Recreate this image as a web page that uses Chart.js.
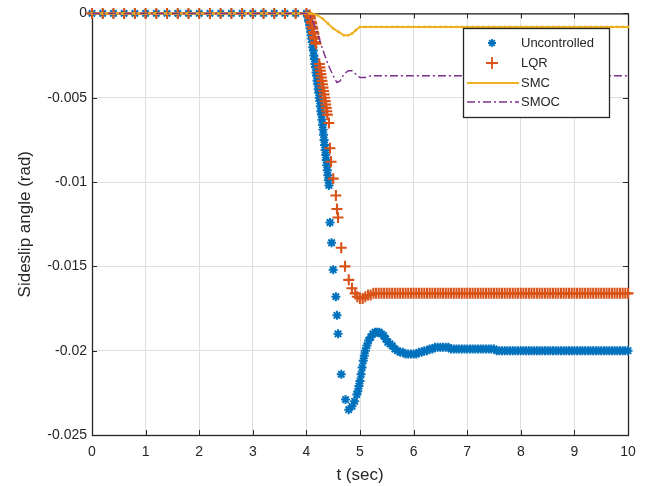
<!DOCTYPE html>
<html>
<head>
<meta charset="utf-8">
<script src="https://cdn.jsdelivr.net/npm/chart.js@4.4.0/dist/chart.umd.min.js"></script>
<style>
    html, body { margin: 0; padding: 0; background: #fff; }
    canvas { display: block; }
</style>
</head>
<body>
<canvas id="sideslip" width="654" height="486"></canvas>
<script>
    // Donnees
    const seriesNames = ['Uncontrolled', 'LQR', 'SMC', 'SMOC'];
    const xTicks = [0, 1, 2, 3, 4, 5, 6, 7, 8, 9, 10];
    const xTickLabels = ['0', '1', '2', '3', '4', '5', '6', '7', '8', '9', '10'];
    const yTicks = [-0.025, -0.02, -0.015, -0.01, -0.005, 0];
    const yTickLabels = ['-0.025', '-0.02', '-0.015', '-0.01', '-0.005', '0'];

    // avant la perturbation (commun aux 4 courbes)
    const tHead = [0, 0.2, 0.4, 0.6, 0.8, 1, 1.2, 1.4, 1.6, 1.8, 2, 2.2, 2.4, 2.6, 2.8, 3, 3.2, 3.4, 3.6, 3.8, 4];
    const yHead = [0, 0, 0, 0, 0, 0, 0, 0, 0, 0, 0, 0, 0, 0, 0, 0, 0, 0, 0, 0, 0];

    // regime etabli, pas fin (marqueurs) et pas large (lignes)
    const tTailDense = [6.05, 6.1, 6.15, 6.2, 6.25, 6.3, 6.35, 6.4, 6.45, 6.5,
                        6.55, 6.6, 6.65, 6.7, 6.75, 6.8, 6.85, 6.9, 6.95, 7,
                        7.05, 7.1, 7.15, 7.2, 7.25, 7.3, 7.35, 7.4, 7.45, 7.5,
                        7.55, 7.6, 7.65, 7.7, 7.75, 7.8, 7.85, 7.9, 7.95, 8,
                        8.05, 8.1, 8.15, 8.2, 8.25, 8.3, 8.35, 8.4, 8.45, 8.5,
                        8.55, 8.6, 8.65, 8.7, 8.75, 8.8, 8.85, 8.9, 8.95, 9,
                        9.05, 9.1, 9.15, 9.2, 9.25, 9.3, 9.35, 9.4, 9.45, 9.5,
                        9.55, 9.6, 9.65, 9.7, 9.75, 9.8, 9.85, 9.9, 9.95, 10];
    const tTailLine = [6.1, 6.2, 6.3, 6.4, 6.5, 6.6, 6.7, 6.8, 6.9, 7,
                       7.1, 7.2, 7.3, 7.4, 7.5, 7.6, 7.7, 7.8, 7.9, 8,
                       8.1, 8.2, 8.3, 8.4, 8.5, 8.6, 8.7, 8.8, 8.9, 9,
                       9.1, 9.2, 9.3, 9.4, 9.5, 9.6, 9.7, 9.8, 9.9, 10];

    // Uncontrolled
    const tUnc = [4.02, 4.03, 4.04, 4.05, 4.06, 4.07, 4.08, 4.09, 4.10, 4.11,
                  4.12, 4.13, 4.14, 4.15, 4.16, 4.17, 4.18, 4.19, 4.20, 4.21,
                  4.22, 4.23, 4.24, 4.25, 4.26, 4.27, 4.28, 4.29, 4.30, 4.31,
                  4.32, 4.33, 4.34, 4.35, 4.36, 4.37, 4.38, 4.39, 4.40, 4.41, 4.42,
                  4.44, 4.47, 4.50, 4.55, 4.57, 4.59, 4.65, 4.73, 4.79, 4.85, 4.90, 4.94,
                  4.96, 4.98, 5.00, 5.02, 5.04, 5.06, 5.08, 5.10, 5.13, 5.16,
                  5.20, 5.24, 5.28, 5.32, 5.36, 5.40, 5.44, 5.48, 5.52, 5.56,
                  5.60, 5.65, 5.70, 5.75, 5.80, 5.85, 5.90, 5.95, 6.00];
    const yUnc = [-0.0001, -0.0002, -0.0004, -0.0005, -0.0007, -0.0009, -0.0011, -0.0013, -0.0015, -0.0017,
                  -0.0020, -0.0022, -0.0025, -0.0027, -0.0030, -0.0032, -0.0035, -0.0037, -0.0040, -0.0042,
                  -0.0045, -0.0047, -0.0050, -0.0052, -0.0055, -0.0058, -0.0060, -0.0063, -0.0066, -0.0069,
                  -0.0072, -0.0075, -0.0078, -0.0081, -0.0084, -0.0087, -0.0090, -0.0093, -0.0096, -0.0099, -0.0102,
                  -0.0124, -0.0136, -0.0152, -0.0168, -0.0179, -0.0190, -0.0214, -0.0229, -0.0235, -0.0233, -0.0230, -0.0226,
                  -0.0224, -0.0221, -0.0218, -0.0214, -0.0210, -0.0206, -0.0203, -0.0200, -0.0197, -0.0194,
                  -0.0192, -0.0190, -0.0189, -0.0189, -0.0189, -0.0190, -0.0191, -0.0193, -0.0195, -0.0196,
                  -0.0197, -0.0199, -0.0200, -0.0201, -0.0201, -0.0202, -0.0202, -0.0202, -0.0202];
    const yUncTail = [-0.0202, -0.0201, -0.0201, -0.0200, -0.0200, -0.0199, -0.0199, -0.0198, -0.0198, -0.0198,
                      -0.0198, -0.0198, -0.0198, -0.0199, -0.0199, -0.0199, -0.0199, -0.0199, -0.0199, -0.0199,
                      -0.0199, -0.0199, -0.0199, -0.0199, -0.0199, -0.0199, -0.0199, -0.0199, -0.0199, -0.0199,
                      -0.0200, -0.0200, -0.0200, -0.0200, -0.0200, -0.0200, -0.0200, -0.0200, -0.0200, -0.0200,
                      -0.0200, -0.0200, -0.0200, -0.0200, -0.0200, -0.0200, -0.0200, -0.0200, -0.0200, -0.0200,
                      -0.0200, -0.0200, -0.0200, -0.0200, -0.0200, -0.0200, -0.0200, -0.0200, -0.0200, -0.0200,
                      -0.0200, -0.0200, -0.0200, -0.0200, -0.0200, -0.0200, -0.0200, -0.0200, -0.0200, -0.0200,
                      -0.0200, -0.0200, -0.0200, -0.0200, -0.0200, -0.0200, -0.0200, -0.0200, -0.0200, -0.0200];

    // LQR
    const tLqr = [4.06, 4.07, 4.08, 4.09, 4.10, 4.11, 4.12, 4.13, 4.14, 4.15, 4.16, 4.17, 4.18,
                  4.24, 4.25, 4.26, 4.27, 4.28, 4.29, 4.30, 4.31, 4.32, 4.33, 4.34, 4.35, 4.36, 4.37, 4.38, 4.39,
                  4.42, 4.44, 4.46, 4.50, 4.55, 4.57, 4.59, 4.65, 4.72, 4.79, 4.85, 4.91,
                  4.95, 5.00, 5.05, 5.10, 5.15, 5.20, 5.25, 5.30, 5.35, 5.40, 5.45, 5.50,
                  5.55, 5.60, 5.65, 5.70, 5.75, 5.80, 5.85, 5.90, 5.95, 6.00];
    const yLqr = [-0.0001, -0.0002, -0.0003, -0.0005, -0.0006, -0.0008, -0.0009, -0.0011, -0.0012, -0.0014, -0.0015, -0.0017, -0.0018,
                  -0.0030, -0.0032, -0.0034, -0.0036, -0.0038, -0.0040, -0.0042, -0.0044, -0.0046, -0.0048, -0.0050, -0.0052, -0.0054, -0.0056, -0.0058, -0.0060,
                  -0.0065, -0.0080, -0.0088, -0.0098, -0.0108, -0.0116, -0.0121, -0.0139, -0.0150, -0.0158, -0.0163, -0.0166,
                  -0.0168, -0.0169, -0.0169, -0.0168, -0.0167, -0.0167, -0.0166, -0.0166, -0.0166, -0.0166, -0.0166, -0.0166,
                  -0.0166, -0.0166, -0.0166, -0.0166, -0.0166, -0.0166, -0.0166, -0.0166, -0.0166, -0.0166];
    const yLqrTail = [-0.0166, -0.0166, -0.0166, -0.0166, -0.0166, -0.0166, -0.0166, -0.0166, -0.0166, -0.0166,
                      -0.0166, -0.0166, -0.0166, -0.0166, -0.0166, -0.0166, -0.0166, -0.0166, -0.0166, -0.0166,
                      -0.0166, -0.0166, -0.0166, -0.0166, -0.0166, -0.0166, -0.0166, -0.0166, -0.0166, -0.0166,
                      -0.0166, -0.0166, -0.0166, -0.0166, -0.0166, -0.0166, -0.0166, -0.0166, -0.0166, -0.0166,
                      -0.0166, -0.0166, -0.0166, -0.0166, -0.0166, -0.0166, -0.0166, -0.0166, -0.0166, -0.0166,
                      -0.0166, -0.0166, -0.0166, -0.0166, -0.0166, -0.0166, -0.0166, -0.0166, -0.0166, -0.0166,
                      -0.0166, -0.0166, -0.0166, -0.0166, -0.0166, -0.0166, -0.0166, -0.0166, -0.0166, -0.0166,
                      -0.0166, -0.0166, -0.0166, -0.0166, -0.0166, -0.0166, -0.0166, -0.0166, -0.0166, -0.0166];

    // SMC
    const tSmc = [4.1, 4.2, 4.3, 4.4, 4.5, 4.6, 4.7, 4.78, 4.85, 4.92, 5.0,
                  5.1, 5.2, 5.3, 5.4, 5.5, 5.6, 5.7, 5.8, 5.9, 6.0];
    const ySmc = [0, -0.0001, -0.0003, -0.0006, -0.0009, -0.0011, -0.0013, -0.0013, -0.0012, -0.0010, -0.0008,
                  -0.0008, -0.0008, -0.0008, -0.0008, -0.0008, -0.0008, -0.0008, -0.0008, -0.0008, -0.0008];
    const ySmcTail = [-0.0008, -0.0008, -0.0008, -0.0008, -0.0008, -0.0008, -0.0008, -0.0008, -0.0008, -0.0008,
                      -0.0008, -0.0008, -0.0008, -0.0008, -0.0008, -0.0008, -0.0008, -0.0008, -0.0008, -0.0008,
                      -0.0008, -0.0008, -0.0008, -0.0008, -0.0008, -0.0008, -0.0008, -0.0008, -0.0008, -0.0008,
                      -0.0008, -0.0008, -0.0008, -0.0008, -0.0008, -0.0008, -0.0008, -0.0008, -0.0008, -0.0008];

    // SMOC
    const tSmoc = [4.1, 4.2, 4.3, 4.4, 4.5, 4.57, 4.63, 4.7, 4.78, 4.85, 4.92, 5.0,
                   5.1, 5.2, 5.3, 5.4, 5.5, 5.6, 5.7, 5.8, 5.9, 6.0];
    const ySmoc = [-0.0003, -0.0011, -0.0021, -0.0030, -0.0037, -0.0041, -0.0040, -0.0036, -0.0034, -0.0034, -0.0036, -0.0038,
                   -0.0038, -0.0037, -0.0037, -0.0037, -0.0037, -0.0037, -0.0037, -0.0037, -0.0037, -0.0037];
    const ySmocTail = [-0.0037, -0.0037, -0.0037, -0.0037, -0.0037, -0.0037, -0.0037, -0.0037, -0.0037, -0.0037,
                       -0.0037, -0.0037, -0.0037, -0.0037, -0.0037, -0.0037, -0.0037, -0.0037, -0.0037, -0.0037,
                       -0.0037, -0.0037, -0.0037, -0.0037, -0.0037, -0.0037, -0.0037, -0.0037, -0.0037, -0.0037,
                       -0.0037, -0.0037, -0.0037, -0.0037, -0.0037, -0.0037, -0.0037, -0.0037, -0.0037, -0.0037];

    const colors = ['#0072BD', '#D95319', '#EDB120', '#7E2F8E'];
    const fontFamily = "'Liberation Sans', Arial, sans-serif";
    const axisColor = '#262626';

    function pairs(ts, ys) {
        return ts.map((t, i) => ({ x: t, y: ys[i] }));
    }

    // cadre + graduations interieures (style matlab)
    const axisFrame = {
        id: 'axisFrame',
        beforeDatasetsDraw(chart) {
            const { ctx, chartArea: a, scales } = chart;
            ctx.save();
            ctx.strokeStyle = axisColor;
            ctx.lineWidth = 1;
            ctx.beginPath();
            xTicks.forEach(v => {
                const px = Math.round(scales.x.getPixelForValue(v)) + 0.5;
                ctx.moveTo(px, a.bottom); ctx.lineTo(px, a.bottom - 5);
                ctx.moveTo(px, a.top); ctx.lineTo(px, a.top + 5);
            });
            yTicks.forEach(v => {
                const py = Math.round(scales.y.getPixelForValue(v)) + 0.5;
                ctx.moveTo(a.left, py); ctx.lineTo(a.left + 5, py);
                ctx.moveTo(a.right, py); ctx.lineTo(a.right - 5, py);
            });
            ctx.stroke();
            ctx.lineWidth = 1.3;
            ctx.strokeRect(a.left + 0.5, a.top + 0.5, a.right - a.left, a.bottom - a.top);
            ctx.restore();
        }
    };

    // legende encadree en haut a droite
    const boxLegend = {
        id: 'boxLegend',
        afterDraw(chart) {
            const ctx = chart.ctx;
            const bx = 463, by = 28, bw = 146, bh = 89;
            ctx.save();
            ctx.fillStyle = '#fff';
            ctx.fillRect(bx, by, bw, bh);
            ctx.strokeStyle = axisColor;
            ctx.lineWidth = 1.3;
            ctx.strokeRect(bx + 0.5, by + 0.5, bw, bh);

            const rows = [43, 63, 83, 102];
            const x0 = 467, x1 = 519, xm = 492;

            // Uncontrolled
            ctx.strokeStyle = colors[0];
            ctx.lineWidth = 1.8;
            Chart.helpers.drawPoint(ctx, { pointStyle: 'star', radius: 4, borderWidth: 1.8, rotation: 0 }, xm, rows[0]);
            // LQR
            ctx.strokeStyle = colors[1];
            Chart.helpers.drawPoint(ctx, { pointStyle: 'cross', radius: 6, borderWidth: 1.8, rotation: 0 }, xm, rows[1]);
            // SMC
            ctx.strokeStyle = colors[2];
            ctx.lineWidth = 1.8;
            ctx.beginPath(); ctx.moveTo(x0, rows[2]); ctx.lineTo(x1, rows[2]); ctx.stroke();
            // SMOC
            ctx.strokeStyle = colors[3];
            ctx.lineWidth = 1.4;
            ctx.setLineDash([8, 3, 2, 3]);
            ctx.beginPath(); ctx.moveTo(x0, rows[3]); ctx.lineTo(x1, rows[3]); ctx.stroke();
            ctx.setLineDash([]);

            ctx.fillStyle = axisColor;
            ctx.font = '13px ' + fontFamily;
            ctx.textBaseline = 'middle';
            ctx.textAlign = 'left';
            seriesNames.forEach((name, i) => ctx.fillText(name, 521, rows[i]));
            ctx.restore();
        }
    };

    function graph() {
        const ctx = document.getElementById('sideslip').getContext('2d');
        new Chart(ctx, {
            type: 'line',
            data: {
                datasets: [{
                    label: seriesNames[0],
                    data: pairs(tHead.concat(tUnc, tTailDense), yHead.concat(yUnc, yUncTail)),
                    showLine: false,
                    pointStyle: 'star',
                    pointRadius: 4.5,
                    pointBorderWidth: 2,
                    borderColor: colors[0],
                    backgroundColor: colors[0],
                    clip: false,
                    order: 4
                }, {
                    label: seriesNames[1],
                    data: pairs(tHead.concat(tLqr, tTailDense), yHead.concat(yLqr, yLqrTail)),
                    showLine: false,
                    pointStyle: 'cross',
                    pointRadius: 5.5,
                    pointBorderWidth: 2.1,
                    borderColor: colors[1],
                    backgroundColor: colors[1],
                    clip: false,
                    order: 3
                }, {
                    label: seriesNames[2],
                    data: pairs(tHead.concat(tSmc, tTailLine), yHead.concat(ySmc, ySmcTail)),
                    borderColor: colors[2],
                    backgroundColor: colors[2],
                    borderWidth: 2,
                    pointStyle: 'circle',
                    pointRadius: 1.4,
                    pointBorderWidth: 0,
                    tension: 0,
                    clip: false,
                    order: 2
                }, {
                    label: seriesNames[3],
                    data: pairs(tHead.concat(tSmoc, tTailLine), yHead.concat(ySmoc, ySmocTail)),
                    borderColor: colors[3],
                    borderWidth: 1.4,
                    borderDash: [8, 3, 2, 3],
                    pointRadius: 0,
                    tension: 0,
                    clip: false,
                    order: 1
                }]
            },
            options: {
                responsive: false,
                animation: false,
                devicePixelRatio: 1,
                events: [],
                layout: { padding: { top: 13, right: 26, left: 0, bottom: 0 } },
                plugins: {
                    legend: { display: false },
                    tooltip: { enabled: false }
                },
                scales: {
                    x: {
                        type: 'linear',
                        min: 0,
                        max: 10,
                        afterFit: s => { s.height = 51; },
                        afterBuildTicks: s => { s.ticks = xTicks.map(v => ({ value: v })); },
                        grid: { color: '#dfdfdf', drawTicks: false },
                        border: { display: false },
                        ticks: {
                            padding: 9,
                            maxRotation: 0,
                            color: axisColor,
                            font: { family: fontFamily, size: 14 },
                            callback: (v, i) => xTickLabels[i]
                        },
                        title: {
                            display: true,
                            text: 't (sec)',
                            color: axisColor,
                            font: { family: fontFamily, size: 17 },
                            padding: { top: 0, bottom: 0 }
                        }
                    },
                    y: {
                        type: 'linear',
                        min: -0.025,
                        max: 0,
                        afterFit: s => { s.width = 92; },
                        afterBuildTicks: s => { s.ticks = yTicks.map(v => ({ value: v })); },
                        grid: { color: '#dfdfdf', drawTicks: false },
                        border: { display: false },
                        ticks: {
                            padding: 5,
                            color: axisColor,
                            font: { family: fontFamily, size: 14 },
                            callback: (v, i) => yTickLabels[i]
                        },
                        title: {
                            display: true,
                            text: 'Sideslip angle (rad)',
                            color: axisColor,
                            font: { family: fontFamily, size: 17 },
                            padding: { top: 15, bottom: 0 }
                        }
                    }
                }
            },
            plugins: [axisFrame, boxLegend]
        });
    }

    document.addEventListener('DOMContentLoaded', function() {
        graph();
    });
</script>
</body>
</html>
